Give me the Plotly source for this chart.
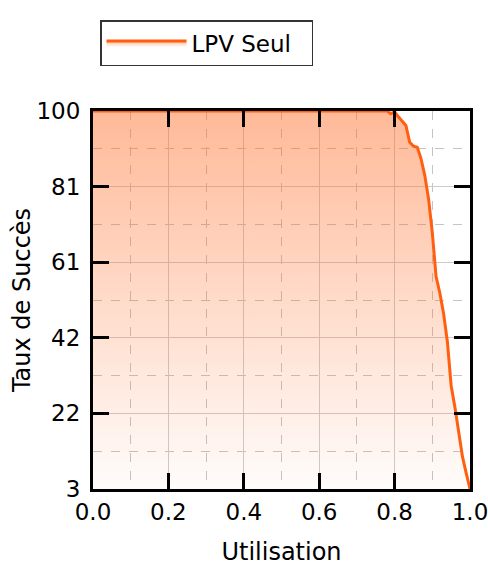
import plotly.graph_objects as go
import numpy as np

utilisation = [0.0, 0.78, 0.79, 0.80, 0.81, 0.82, 0.83, 0.84, 0.85, 0.86, 0.87, 0.88,
               0.89, 0.90, 0.91, 0.92, 0.93, 0.94, 0.95, 0.96, 0.97, 0.98, 0.99, 1.0]
taux_succes = [100, 100, 99.3, 99.8, 98.5, 97.3, 96.3, 92.0, 91.0, 90.7, 87.8, 83.5,
               77.5, 68.8, 57.5, 53.3, 48.0, 40.8, 29.5, 24.0, 18.0, 11.3, 7.0, 3.0]
series_name = "LPV Seul"
y_tickvals = list(np.linspace(3, 100, 6))
y_ticktext = ["3", "22", "42", "61", "81", "100"]
x_tickvals = [0.0, 0.2, 0.4, 0.6, 0.8, 1.0]
x_ticktext = ["0.0", "0.2", "0.4", "0.6", "0.8", "1.0"]

FONT = "DejaVu Sans"
LINE = "#ff5f0f"

fig = go.Figure()
fig.add_trace(go.Scatter(
    x=utilisation, y=taux_succes, mode="lines", name=series_name,
    line=dict(color=LINE, width=3),
    fill="tozeroy",
    fillgradient=dict(type="vertical", start=3, stop=100,
                      colorscale=[[0, "rgba(255,110,40,0.02)"], [1, "rgba(255,110,40,0.48)"]]),
))

axis_common = dict(
    showline=True, linecolor="black", linewidth=3, mirror="ticks",
    ticks="inside", ticklen=16, tickwidth=3, tickcolor="black",
    showgrid=True, gridcolor="#cccccc", gridwidth=1,
    tickfont=dict(family=FONT, size=23, color="black"),
    zeroline=False, ticklabeloverflow="allow", automargin=False,
)

fig.update_xaxes(
    range=[0, 1], tickvals=x_tickvals, ticktext=x_ticktext,
    title=dict(text="Utilisation", font=dict(family=FONT, size=24, color="black"), standoff=22),
    minor=dict(dtick=0.1, tick0=0, showgrid=True, gridcolor="#c4c4c4", griddash="dash", gridwidth=1, ticks=""),
    **axis_common,
)
fig.update_yaxes(
    range=[3, 100], tickvals=y_tickvals, ticktext=y_ticktext, ticklabelstandoff=5,
    title=dict(text="Taux de Succès", font=dict(family=FONT, size=24, color="black"), standoff=0),
    minor=dict(tickvals=list(np.linspace(3, 100, 11)[1::2]), showgrid=True, gridcolor="#c4c4c4",
               griddash="dash", gridwidth=1, ticks=""),
    **axis_common,
)

fig.update_layout(
    width=488, height=566,
    margin=dict(l=93, r=18, t=111, b=77),
    paper_bgcolor="white", plot_bgcolor="white",
    font=dict(family=FONT, size=23, color="black"),
    showlegend=True,
    legend=dict(x=(100 - 93) / 377, y=1 + (111 - 20) / 378, xanchor="left", yanchor="top",
                orientation="h", entrywidth=115,
                bordercolor="#333333", borderwidth=1.5, bgcolor="white",
                font=dict(family=FONT, size=23, color="black"), itemwidth=80),
)

fig.write_html(
    "out.html",
    config={"displayModeBar": False},
    post_script="document.body.style.margin='0';document.body.style.overflow='hidden';",
)
